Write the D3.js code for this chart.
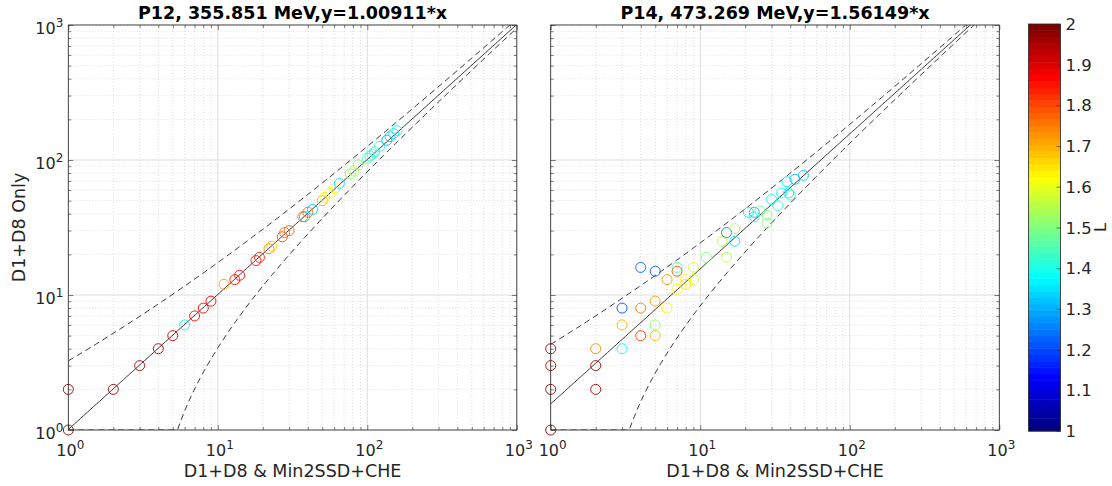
<!DOCTYPE html>
<html>
<head>
<meta charset="utf-8">
<script src="https://cdn.jsdelivr.net/npm/d3@7"></script>
<style>
  body { margin: 0; background: #fff; }
  svg { display: block; font-family: "DejaVu Sans", sans-serif; }
</style>
</head>
<body>
<div id="chart"></div>
<script>
// P12 panel: x = D1+D8 & Min2SSD+CHE, y = D1+D8 only, l = L value
const p12X = [1, 1, 2, 3, 4, 5, 6, 7, 8, 9, 11, 13, 14, 18, 19, 22, 23, 27, 28, 30, 37, 38, 40, 43, 50, 52, 56, 61, 65, 77, 81, 87, 100, 104, 108, 112, 121, 135, 142, 150, 158];
const p12Y = [1, 2, 2, 3, 4, 5, 6, 7, 8, 9, 12, 13, 14, 18, 19, 22, 23, 27, 29, 30, 38, 38, 41, 43, 50, 53, 57, 62, 67, 79, 83, 92, 103, 107, 110, 115, 126, 140, 149, 157, 165];
const p12L = [1.98, 1.97, 1.97, 1.96, 1.96, 1.93, 1.38, 1.88, 1.88, 1.88, 1.72, 1.86, 1.86, 1.86, 1.84, 1.74, 1.68, 1.8, 1.78, 1.78, 1.76, 1.3, 1.76, 1.32, 1.7, 1.64, 1.62, 1.62, 1.35, 1.5, 1.56, 1.5, 1.46, 1.42, 1.45, 1.38, 1.42, 1.3, 1.32, 1.36, 1.38];

// P14 panel
const p14X = [1, 1, 1, 1, 2, 2, 2, 3, 3, 3, 4, 4, 4, 5, 5, 5, 5, 6, 6, 7, 7, 7, 8, 8, 9, 9, 11, 14, 15, 15, 17, 17, 21, 23, 23, 25, 28, 28, 30, 33, 35, 39, 40, 38, 43, 49];
const p14Y = [1, 2, 3, 4, 2, 3, 4, 4, 6, 8, 5, 8, 16, 5, 6, 9, 15, 8, 13, 11, 16, 15, 13, 12, 16, 13, 19, 25, 19, 29, 31, 25, 41, 41, 38, 42, 39, 34, 51, 46, 57, 57, 55, 69, 72, 77];
const p14L = [1.97, 1.97, 1.96, 1.96, 1.96, 1.96, 1.74, 1.38, 1.7, 1.2, 1.82, 1.76, 1.22, 1.7, 1.5, 1.72, 1.22, 1.62, 1.72, 1.63, 1.45, 1.8, 1.63, 1.66, 1.58, 1.58, 1.5, 1.55, 1.55, 1.25, 1.55, 1.35, 1.35, 1.3, 1.38, 1.48, 1.5, 1.5, 1.38, 1.42, 1.38, 1.35, 1.45, 1.35, 1.3, 1.32];

const titles = ["P12, 355.851 MeV,y=1.00911*x", "P14, 473.269 MeV,y=1.56149*x"];
const slopes = [1.00911, 1.56149];
// dashed band: fit +/- k*sqrt(fit) + s*fit
const upperK = [2.2, 2.2];
const upperS = [0.03, 0];
const lowerK = [1.9, 1.85];
const decades = [1, 10, 100, 1000];
const cbTicks = [1, 1.1, 1.2, 1.3, 1.4, 1.5, 1.6, 1.7, 1.8, 1.9, 2];

const W = 1112, H = 486;
const ink = "#262626";

function jet(t) {
  const c = v => Math.max(0, Math.min(1, v));
  const r = c(1.5 - Math.abs(4 * t - 3));
  const g = c(1.5 - Math.abs(4 * t - 2));
  const b = c(1.5 - Math.abs(4 * t - 1));
  return d3.rgb(r * 255, g * 255, b * 255).toString();
}

const svg = d3.select("#chart").append("svg")
  .attr("width", W)
  .attr("height", H);

svg.append("rect").attr("width", W).attr("height", H).attr("fill", "#fff");

const yTop = 25, yBot = 430;
const panels = [
  { x0: 68.3, x1: 516.8, xs: p12X, ys: p12Y, ls: p12L },
  { x0: 550.7, x1: 999.3, xs: p14X, ys: p14Y, ls: p14L }
];

const cScale = d3.scaleLinear().domain([1, 2]).range([0, 1]).clamp(true);

panels.forEach((p, pi) => {
  const x = d3.scaleLog().domain([1, 1000]).range([p.x0, p.x1]);
  const y = d3.scaleLog().domain([1, 1000]).range([yBot, yTop]);
  const g = svg.append("g");
  const minor = x.ticks().filter(v => !decades.includes(v));

  // grid
  g.selectAll(".gxm").data(minor).join("line")
    .attr("x1", d => x(d)).attr("x2", d => x(d))
    .attr("y1", yTop).attr("y2", yBot)
    .attr("stroke", "#c8c8c8").attr("stroke-width", 0.6).attr("stroke-dasharray", "1,2");
  g.selectAll(".gym").data(minor).join("line")
    .attr("y1", d => y(d)).attr("y2", d => y(d))
    .attr("x1", p.x0).attr("x2", p.x1)
    .attr("stroke", "#c8c8c8").attr("stroke-width", 0.6).attr("stroke-dasharray", "1,2");
  g.selectAll(".gxM").data(decades).join("line")
    .attr("x1", d => x(d)).attr("x2", d => x(d))
    .attr("y1", yTop).attr("y2", yBot)
    .attr("stroke", "#dedede").attr("stroke-width", 1);
  g.selectAll(".gyM").data(decades).join("line")
    .attr("y1", d => y(d)).attr("y2", d => y(d))
    .attr("x1", p.x0).attr("x2", p.x1)
    .attr("stroke", "#dedede").attr("stroke-width", 1);

  // clip for lines
  const clipId = "clip" + pi;
  svg.append("clipPath").attr("id", clipId).append("rect")
    .attr("x", p.x0).attr("y", yTop)
    .attr("width", p.x1 - p.x0).attr("height", yBot - yTop);

  const a = slopes[pi];
  const xsLine = d3.range(0, 3.001, 0.01).map(e => Math.pow(10, e));
  const fit = xsLine.map(v => ({ x: v, y: a * v }));
  const upper = xsLine.map(v => ({ x: v, y: a * v * (1 + upperS[pi]) + upperK[pi] * Math.sqrt(a * v) }));
  const lower = xsLine.map(v => ({ x: v, y: Math.max(a * v - lowerK[pi] * Math.sqrt(a * v), 1) }));
  const line = d3.line().x(d => x(d.x)).y(d => y(d.y));

  const lg = g.append("g").attr("clip-path", `url(#${clipId})`);
  lg.append("path").datum(fit).attr("d", line)
    .attr("fill", "none").attr("stroke", "#000").attr("stroke-width", 0.8);
  [upper, lower].forEach(b => {
    lg.append("path").datum(b).attr("d", line)
      .attr("fill", "none").attr("stroke", "#000").attr("stroke-width", 0.8)
      .attr("stroke-dasharray", "6,4");
  });

  // markers
  const pts = p.xs.map((v, i) => ({ x: v, y: p.ys[i], l: p.ls[i] }));
  g.append("g").selectAll("circle").data(pts).join("circle")
    .attr("cx", d => x(d.x)).attr("cy", d => y(d.y))
    .attr("r", 5)
    .attr("fill", "none")
    .attr("stroke", d => jet(cScale(d.l)))
    .attr("stroke-width", 0.9);

  // ticks, inward on all sides
  const tickAxis = (axisFn, scale, vals, size, tr) => {
    const ax = g.append("g").attr("transform", tr)
      .call(axisFn(scale).tickValues(vals).tickSize(size).tickFormat(""));
    ax.select(".domain").remove();
    ax.selectAll("line").attr("stroke", ink).attr("stroke-width", 0.6);
  };
  tickAxis(d3.axisBottom, x, decades, -5, `translate(0,${yBot})`);
  tickAxis(d3.axisBottom, x, minor, -3, `translate(0,${yBot})`);
  tickAxis(d3.axisTop, x, decades, -5, `translate(0,${yTop})`);
  tickAxis(d3.axisTop, x, minor, -3, `translate(0,${yTop})`);
  tickAxis(d3.axisLeft, y, decades, -5, `translate(${p.x0},0)`);
  tickAxis(d3.axisLeft, y, minor, -3, `translate(${p.x0},0)`);
  tickAxis(d3.axisRight, y, decades, -5, `translate(${p.x1},0)`);
  tickAxis(d3.axisRight, y, minor, -3, `translate(${p.x1},0)`);

  // box
  g.append("rect")
    .attr("x", p.x0).attr("y", yTop)
    .attr("width", p.x1 - p.x0).attr("height", yBot - yTop)
    .attr("fill", "none").attr("stroke", ink).attr("stroke-width", 0.8);

  // x tick labels
  const xl = g.selectAll(".xtl").data(decades).join("text")
    .attr("x", d => x(d) + 2).attr("y", 456)
    .attr("text-anchor", "middle")
    .attr("font-size", 16).attr("fill", ink);
  xl.append("tspan").text("10");
  xl.append("tspan").attr("dy", -7).attr("font-size", 12).text(d => Math.round(Math.log10(d)));

  if (pi === 0) {
    const yl = g.selectAll(".ytl").data(decades).join("text")
      .attr("x", p.x0 - 5).attr("y", d => y(d) + 9)
      .attr("text-anchor", "end")
      .attr("font-size", 16).attr("fill", ink);
    yl.append("tspan").text("10");
    yl.append("tspan").attr("dy", -7).attr("font-size", 12).text(d => Math.round(Math.log10(d)));

    g.append("text")
      .attr("transform", `translate(25,${(yTop + yBot) / 2}) rotate(-90)`)
      .attr("text-anchor", "middle")
      .attr("font-size", 17.5).attr("fill", ink)
      .text("D1+D8 Only");
  }

  g.append("text")
    .attr("x", (p.x0 + p.x1) / 2).attr("y", 477)
    .attr("text-anchor", "middle")
    .attr("font-size", 17.5).attr("fill", ink)
    .text("D1+D8 & Min2SSD+CHE");

  g.append("text")
    .attr("x", (p.x0 + p.x1) / 2).attr("y", 19)
    .attr("text-anchor", "middle")
    .attr("font-size", 17.5).attr("font-weight", "bold").attr("fill", "#000")
    .text(titles[pi]);
});

// colorbar
const cb = { x0: 1028.5, x1: 1060.5 };
const cy = d3.scaleLinear().domain([1, 2]).range([431, 24]);
const nBands = 64;
const cg = svg.append("g");
cg.selectAll("rect").data(d3.range(nBands)).join("rect")
  .attr("x", cb.x0).attr("width", cb.x1 - cb.x0)
  .attr("y", i => cy(1 + (i + 1) / nBands))
  .attr("height", i => cy(1 + i / nBands) - cy(1 + (i + 1) / nBands) + 0.5)
  .attr("fill", i => jet(i / (nBands - 1)));
cg.append("rect")
  .attr("x", cb.x0).attr("y", cy(2))
  .attr("width", cb.x1 - cb.x0).attr("height", cy(1) - cy(2))
  .attr("fill", "none").attr("stroke", ink).attr("stroke-width", 0.8);
const cax = cg.append("g").attr("transform", `translate(${cb.x1},0)`)
  .call(d3.axisRight(cy).tickValues(cbTicks).tickSize(-4).tickFormat(""));
cax.select(".domain").remove();
cax.selectAll("line").attr("stroke", ink).attr("stroke-width", 0.6);
cg.selectAll(".cbl").data(cbTicks).join("text")
  .attr("x", cb.x1 + 5).attr("y", d => cy(d) + 6)
  .attr("font-size", 16.5).attr("fill", ink)
  .text(d => d3.format("")(+d.toFixed(1)));
cg.append("text")
  .attr("transform", `translate(1106,${(cy(1) + cy(2)) / 2}) rotate(-90)`)
  .attr("text-anchor", "middle")
  .attr("font-size", 16.5).attr("fill", ink)
  .text("L");
</script>
</body>
</html>
